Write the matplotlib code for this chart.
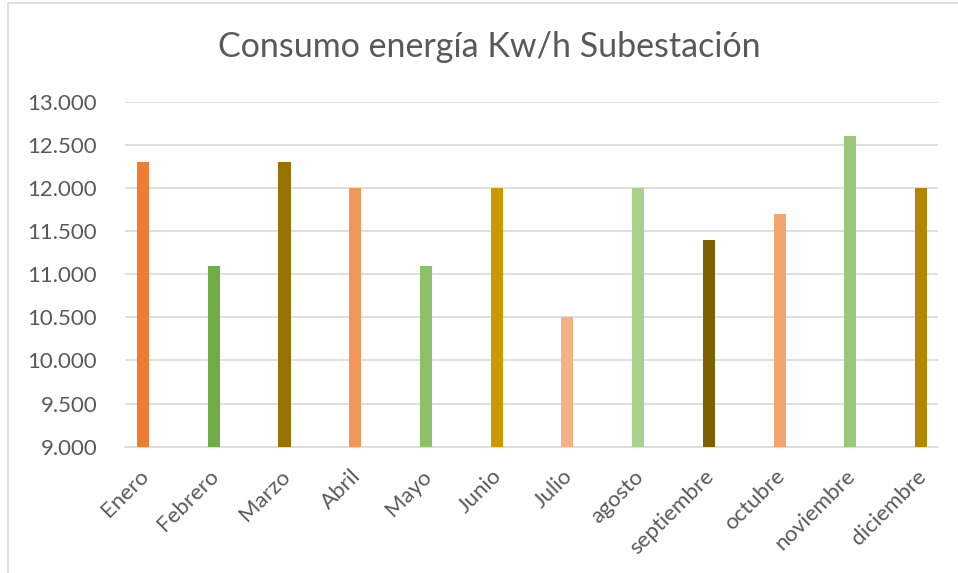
import matplotlib
matplotlib.use("Agg")
import matplotlib.pyplot as plt
import matplotlib.transforms as mtransforms
from matplotlib.ticker import FuncFormatter, MultipleLocator
from matplotlib.patches import Rectangle

# datos
meses = ['Enero', 'Febrero', 'Marzo', 'Abril', 'Mayo', 'Junio', 'Julio',
         'agosto', 'septiembre', 'octubre', 'noviembre', 'diciembre']
consumo = [12300, 11100, 12300, 12000, 11100, 12000, 10500,
           12000, 11400, 11700, 12600, 12000]
colores = ['#ED7D31', '#70AD47', '#997300', '#F1975A', '#8CC168', '#CC9A00',
           '#F4B183', '#A9D18E', '#7F6000', '#F1A56F', '#9AC779', '#B38600']

plt.rcParams['font.family'] = ['Lato', 'DejaVu Sans']
gris = '#595959'

fig = plt.figure(figsize=(9.58, 5.73), dpi=100)
ax = fig.add_axes([0.1305, 0.2204, 0.8486, 0.6021])

x = list(range(len(meses)))
ax.bar(x, consumo, width=0.17, color=colores, zorder=3)

ax.set_ylim(9000, 13000)
ax.set_xlim(-0.255, 11.24)
ax.yaxis.set_major_locator(MultipleLocator(500))
ax.yaxis.set_major_formatter(FuncFormatter(lambda v, p: f"{v:,.0f}".replace(',', '.')))
ax.grid(axis='y', color='#D9D9D9', linewidth=1.2, zorder=0)

for s in ['top', 'right', 'left']:
    ax.spines[s].set_visible(False)
ax.spines['bottom'].set_color('#D9D9D9')
ax.spines['bottom'].set_linewidth(1.2)
ax.spines['bottom'].set_zorder(1)

ax.set_xticks(x)
ax.set_xticklabels(meses, rotation=45, ha='right', rotation_mode='anchor')
ax.tick_params(axis='both', length=0, labelsize=16, labelcolor=gris)
ax.tick_params(axis='y', pad=20)
ax.tick_params(axis='x', pad=14)

# mover un poco las etiquetas del eje x a la izquierda
desplazamiento = mtransforms.ScaledTranslation(-5 / 100, 0, fig.dpi_scale_trans)
for lbl in ax.get_xticklabels():
    lbl.set_transform(lbl.get_transform() + desplazamiento)

fig.text(0.5104, 0.918, 'Consumo energía Kw/h Subestación', ha='center', va='center',
         fontsize=24.5, color=gris)

# borde del gráfico
fig.patches.append(Rectangle((8 / 958, -0.1), 1.1, 0.1 + 570 / 573, transform=fig.transFigure,
                             fill=False, edgecolor='#D9D9D9', linewidth=1.2))

fig.savefig('out.png', dpi=100)
